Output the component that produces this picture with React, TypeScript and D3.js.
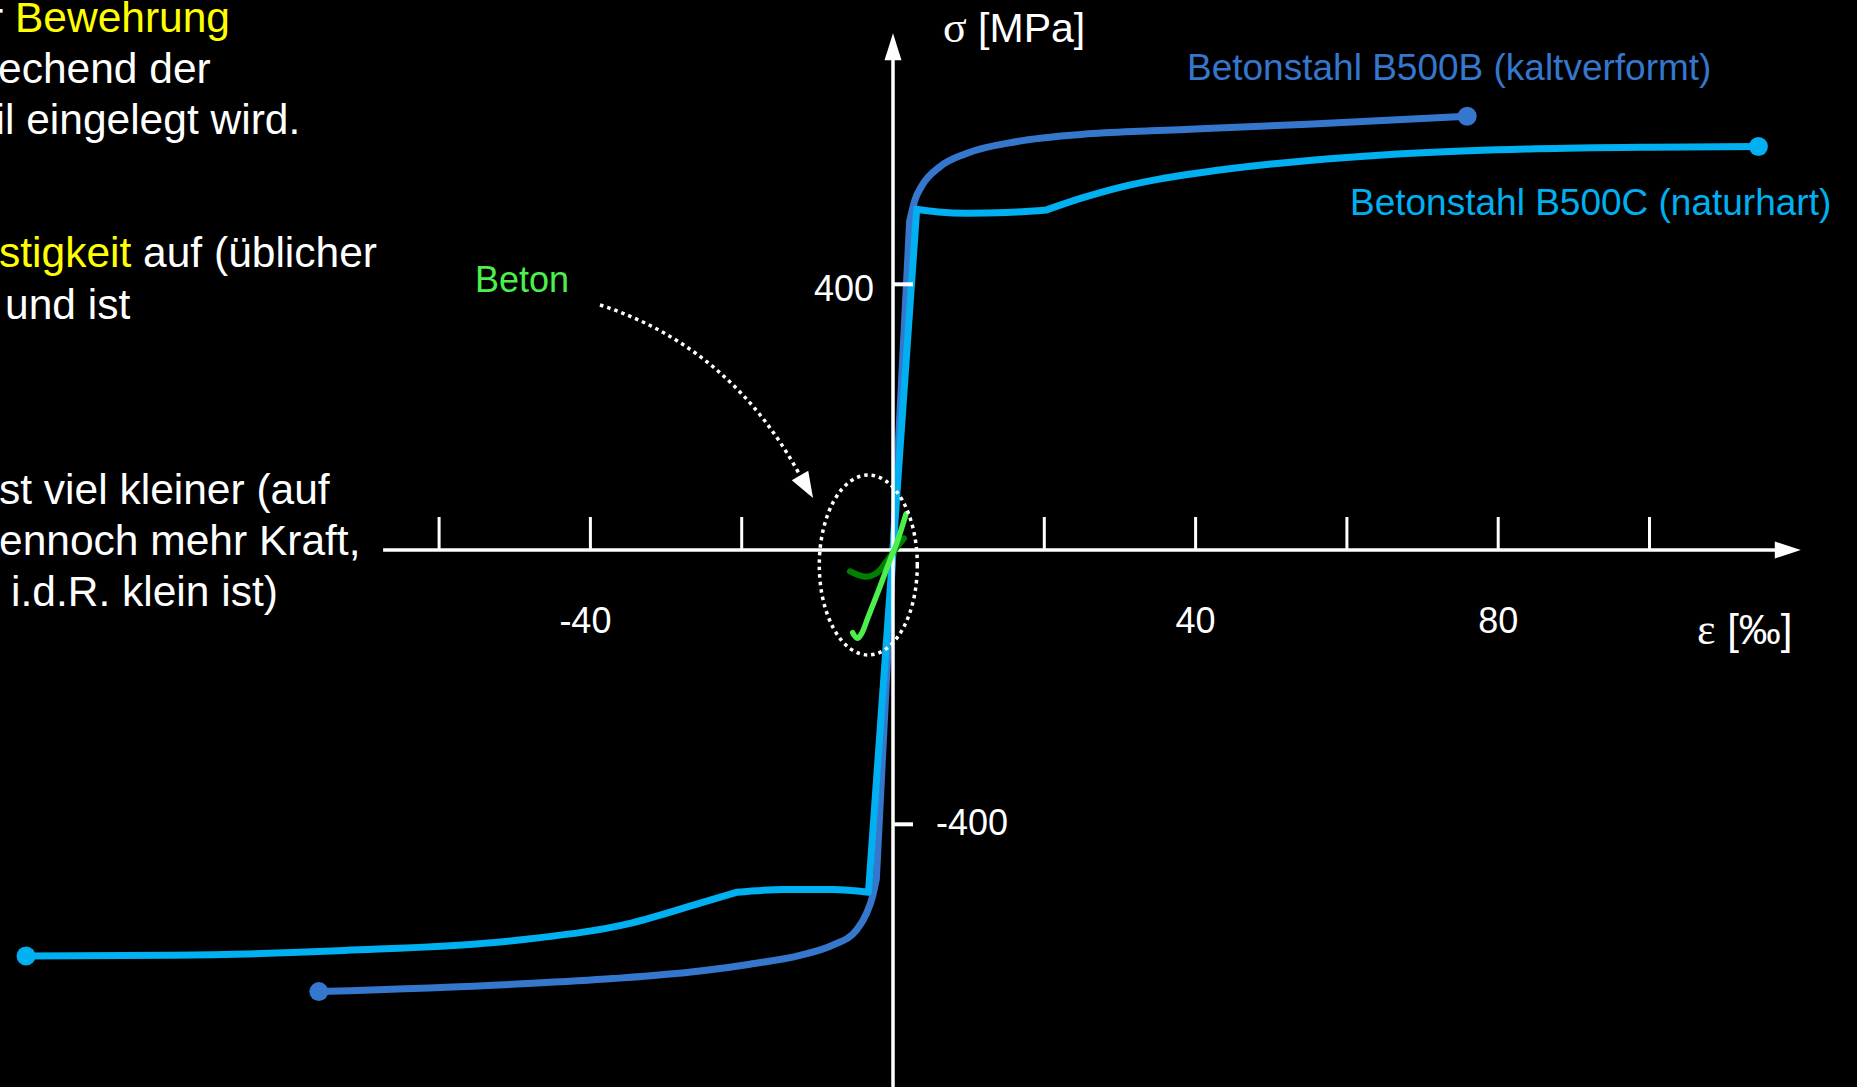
import React from 'react';
import * as d3 from 'd3';

const W = 1857;
const H = 1087;

type Pt = [number, number];

// Strain ε in ‰, stress σ in MPa
const b500bCompression: Pt[] = [
  [-75.9, -644], [-49.7, -633], [-37, -625], [-25.5, -614], [-18.9, -604], [-12.3, -591],
  [-7.9, -576], [-4.8, -554], [-3.5, -530], [-2.7, -505], [-2.2, -480],
];
const b500bElastic: Pt[] = [[-2.2, -480], [0, 0], [2.2, 495]];
const b500bTension: Pt[] = [
  [2.2, 495], [2.9, 527], [3.8, 548], [6.2, 577], [9.7, 597], [16.4, 615], [25.2, 626],
  [34, 631], [40.6, 634], [54.8, 641], [75.9, 653],
];

const b500cCompressionHardening: Pt[] = [
  [-114.6, -592], [-95.3, -591], [-72.5, -584], [-49.7, -569], [-34.6, -544], [-25.5, -515], [-20.6, -499],
];
const b500cCompressionPlateau: Pt[] = [[-20.6, -499], [-14.5, -495], [-7.9, -495], [-3.24, -499]];
const b500cElastic: Pt[] = [[-3.24, -499], [0, 0], [3.13, 513]];
const b500cTensionPlateau: Pt[] = [[3.13, 513], [6, 509], [9.7, 507], [15, 508], [20.3, 512]];
const b500cTensionHardening: Pt[] = [
  [20.3, 512], [25, 530], [30, 546], [35, 558], [40.6, 568], [50, 581], [60, 591], [70, 598],
  [85, 604], [100, 606.5], [114.4, 607.5],
];

// Concrete branches
const betonDark: Pt[] = [
  [-5.7, -31], [-4.8, -35.5], [-3.5, -39], [-2.5, -36], [-1.7, -29], [-0.9, -17], [-0.4, -9.8], [0.5, 4], [1.45, 17.5],
];
const betonLight: Pt[] = [
  [-5.33, -120.6], [-4.72, -128.8], [-4.14, -121.5], [-3.27, -97.3], [-1.72, -53.5], [-0.4, -14.6], [0.49, 10.1], [1.72, 54.2],
];

const xTickValues = [-60, -40, -20, 20, 40, 60, 80, 100];
const xTickLabels = [-40, 40, 80];
const yTickValues = [400, -400];
const xAxisExtent: Pt = [-67.4, 120];
const yAxisExtent: Pt = [778, -800];

const COLORS = {
  b500b: '#3577cc',
  b500c: '#00b0f0',
  betonLight: '#4cf04c',
  betonDark: '#008000',
  yellow: '#ffff00',
  white: '#ffffff',
};

const x = d3.scaleLinear().domain([0, 100]).range([893, 1649.5]);
const y = d3.scaleLinear().domain([-400, 0, 400]).range([824.3, 550, 284.3]);

type Seg = { pts: Pt[]; curve: d3.CurveFactory };

function joinSegments(segs: Seg[]): string {
  return segs
    .map((s, i) => {
      const d =
        d3
          .line<Pt>()
          .x((p) => x(p[0]))
          .y((p) => y(p[1]))
          .curve(s.curve)(s.pts) || '';
      return i === 0 ? d : d.replace(/^M/, 'L');
    })
    .join('');
}

const SANS = '"Liberation Sans", Arial, Helvetica, sans-serif';
const SERIF = '"Liberation Serif", "Times New Roman", serif';

export default function App() {
  const b500bPath = joinSegments([
    { pts: b500bCompression, curve: d3.curveMonotoneX },
    { pts: b500bElastic, curve: d3.curveLinear },
    { pts: b500bTension, curve: d3.curveMonotoneX },
  ]);
  const b500cPath = joinSegments([
    { pts: b500cCompressionHardening, curve: d3.curveMonotoneX },
    { pts: b500cCompressionPlateau, curve: d3.curveMonotoneX },
    { pts: b500cElastic, curve: d3.curveLinear },
    { pts: b500cTensionPlateau, curve: d3.curveMonotoneX },
    { pts: b500cTensionHardening, curve: d3.curveMonotoneX },
  ]);
  const betonDarkPath = joinSegments([{ pts: betonDark, curve: d3.curveMonotoneX }]);
  const betonLightPath = joinSegments([{ pts: betonLight, curve: d3.curveMonotoneX }]);

  const x0 = x(0);
  const y0 = y(0);
  const xLeft = x(xAxisExtent[0]);
  const xRight = x(xAxisExtent[1]);
  const yTop = y(yAxisExtent[0]);
  const yBottom = y(yAxisExtent[1]);

  // Dotted pointer from the "Beton" label to the concrete curves
  const arrowStart: Pt = [600, 305];
  const arrowCtrl: Pt = [731, 347.5];
  const arrowTip: Pt = [813, 498];
  const dir: Pt = [15, 26];
  const len = Math.hypot(dir[0], dir[1]);
  const u: Pt = [dir[0] / len, dir[1] / len];
  const nrm: Pt = [-u[1], u[0]];
  const headLen = 26;
  const headHalf = 9.5;
  const base: Pt = [arrowTip[0] - headLen * u[0], arrowTip[1] - headLen * u[1]];
  const head = [
    arrowTip,
    [base[0] + headHalf * nrm[0], base[1] + headHalf * nrm[1]],
    [base[0] - headHalf * nrm[0], base[1] - headHalf * nrm[1]],
  ]
    .map((p) => p.join(','))
    .join(' ');

  const endMarkers: { p: Pt; c: string }[] = [
    { p: b500bTension[b500bTension.length - 1], c: COLORS.b500b },
    { p: b500bCompression[0], c: COLORS.b500b },
    { p: b500cTensionHardening[b500cTensionHardening.length - 1], c: COLORS.b500c },
    { p: b500cCompressionHardening[0], c: COLORS.b500c },
  ];

  const bodyText = { fontFamily: SANS, fontSize: 42.5, fill: COLORS.white };

  return (
    <svg
      width={W}
      height={H}
      viewBox={`0 0 ${W} ${H}`}
      style={{ position: 'fixed', left: 0, top: 0, display: 'block', background: '#000' }}
    >
      <rect x={0} y={0} width={W} height={H} fill="#000" />

      {/* explanatory text, continuing from the left */}
      <g {...bodyText}>
        <text x={-11} y={32}>
          <tspan>r </tspan>
          <tspan fill={COLORS.yellow}>Bewehrung</tspan>
        </text>
        <text x={-2} y={83}>echend der</text>
        <text x={-4.5} y={133.5}>il eingelegt wird.</text>
        <text x={-1} y={267}>
          <tspan fill={COLORS.yellow}>stigkeit</tspan>
          <tspan> auf (üblicher</tspan>
        </text>
        <text x={5} y={318.5}>und ist</text>
        <text x={-1} y={504}>st viel kleiner (auf</text>
        <text x={-1} y={555}>ennoch mehr Kraft,</text>
        <text x={11} y={605.5}>i.d.R. klein ist)</text>
      </g>

      {/* steel curves */}
      <path d={b500bPath} fill="none" stroke={COLORS.b500b} strokeWidth={7} strokeLinejoin="round" strokeLinecap="round" />
      <path d={b500cPath} fill="none" stroke={COLORS.b500c} strokeWidth={7} strokeLinejoin="round" strokeLinecap="round" />
      {endMarkers.map((m, i) => (
        <circle key={i} cx={x(m.p[0])} cy={y(m.p[1])} r={9.5} fill={m.c} />
      ))}

      {/* axes */}
      <g stroke={COLORS.white} fill="none">
        <line x1={xLeft} y1={y0} x2={xRight - 20} y2={y0} strokeWidth={3.5} />
        <line x1={x0} y1={yBottom} x2={x0} y2={yTop + 24} strokeWidth={3.5} />
        {xTickValues.map((v) => (
          <line key={v} x1={x(v)} x2={x(v)} y1={y0} y2={y0 - 33} strokeWidth={3} />
        ))}
        {yTickValues.map((v) => (
          <line key={v} x1={x0} x2={x0 + 20} y1={y(v)} y2={y(v)} strokeWidth={4} />
        ))}
      </g>
      <polygon
        points={`${xRight},${y0} ${xRight - 26},${y0 - 8.5} ${xRight - 26},${y0 + 8.5}`}
        fill={COLORS.white}
      />
      <polygon
        points={`${x0},${yTop} ${x0 - 8.5},${yTop + 27} ${x0 + 8.5},${yTop + 27}`}
        fill={COLORS.white}
      />

      {/* tick labels */}
      <g fontFamily={SANS} fontSize={36} fill={COLORS.white}>
        {xTickLabels.map((v) => (
          <text key={v} x={x(v) + (v < 0 ? -5 : 0)} y={633} textAnchor="middle">
            {v < 0 ? `-${Math.abs(v)}` : `${v}`}
          </text>
        ))}
        {yTickValues.map((v) =>
          v > 0 ? (
            <text key={v} x={x0 - 19} y={y(v) + 16.5} textAnchor="end">
              {`${v}`}
            </text>
          ) : (
            <text key={v} x={x0 + 43} y={y(v) + 11} textAnchor="start">
              {`-${Math.abs(v)}`}
            </text>
          ),
        )}
      </g>

      {/* axis titles */}
      <text x={943} y={42} fontFamily={SANS} fontSize={41} fill={COLORS.white}>
        <tspan fontFamily={SERIF} fontSize={44}>σ</tspan>
        <tspan> [MPa]</tspan>
      </text>
      <text x={1697} y={644} fontFamily={SANS} fontSize={42} fill={COLORS.white}>
        <tspan fontFamily={SERIF} fontSize={44}>ε</tspan>
        <tspan> [‰]</tspan>
      </text>

      {/* series labels */}
      <text x={1187} y={80} fontFamily={SANS} fontSize={37} fill={COLORS.b500b}>
        Betonstahl B500B (kaltverformt)
      </text>
      <text x={1350} y={215} fontFamily={SANS} fontSize={37} fill={COLORS.b500c}>
        Betonstahl B500C (naturhart)
      </text>

      {/* concrete */}
      <path d={betonDarkPath} fill="none" stroke={COLORS.betonDark} strokeWidth={6} strokeLinecap="round" strokeLinejoin="round" />
      <path d={betonLightPath} fill="none" stroke={COLORS.betonLight} strokeWidth={5.5} strokeLinecap="round" strokeLinejoin="round" />

      <text x={475} y={292} fontFamily={SANS} fontSize={36} fill={COLORS.betonLight}>
        Beton
      </text>

      {/* dotted highlight and pointer */}
      <ellipse
        cx={868.3}
        cy={565}
        rx={49}
        ry={90}
        fill="none"
        stroke={COLORS.white}
        strokeWidth={3.5}
        strokeDasharray="3.5 4"
      />
      <path
        d={`M${arrowStart[0]},${arrowStart[1]} Q${arrowCtrl[0]},${arrowCtrl[1]} ${base[0]},${base[1]}`}
        fill="none"
        stroke={COLORS.white}
        strokeWidth={3.5}
        strokeDasharray="3.5 4"
      />
      <polygon points={head} fill={COLORS.white} />
    </svg>
  );
}
